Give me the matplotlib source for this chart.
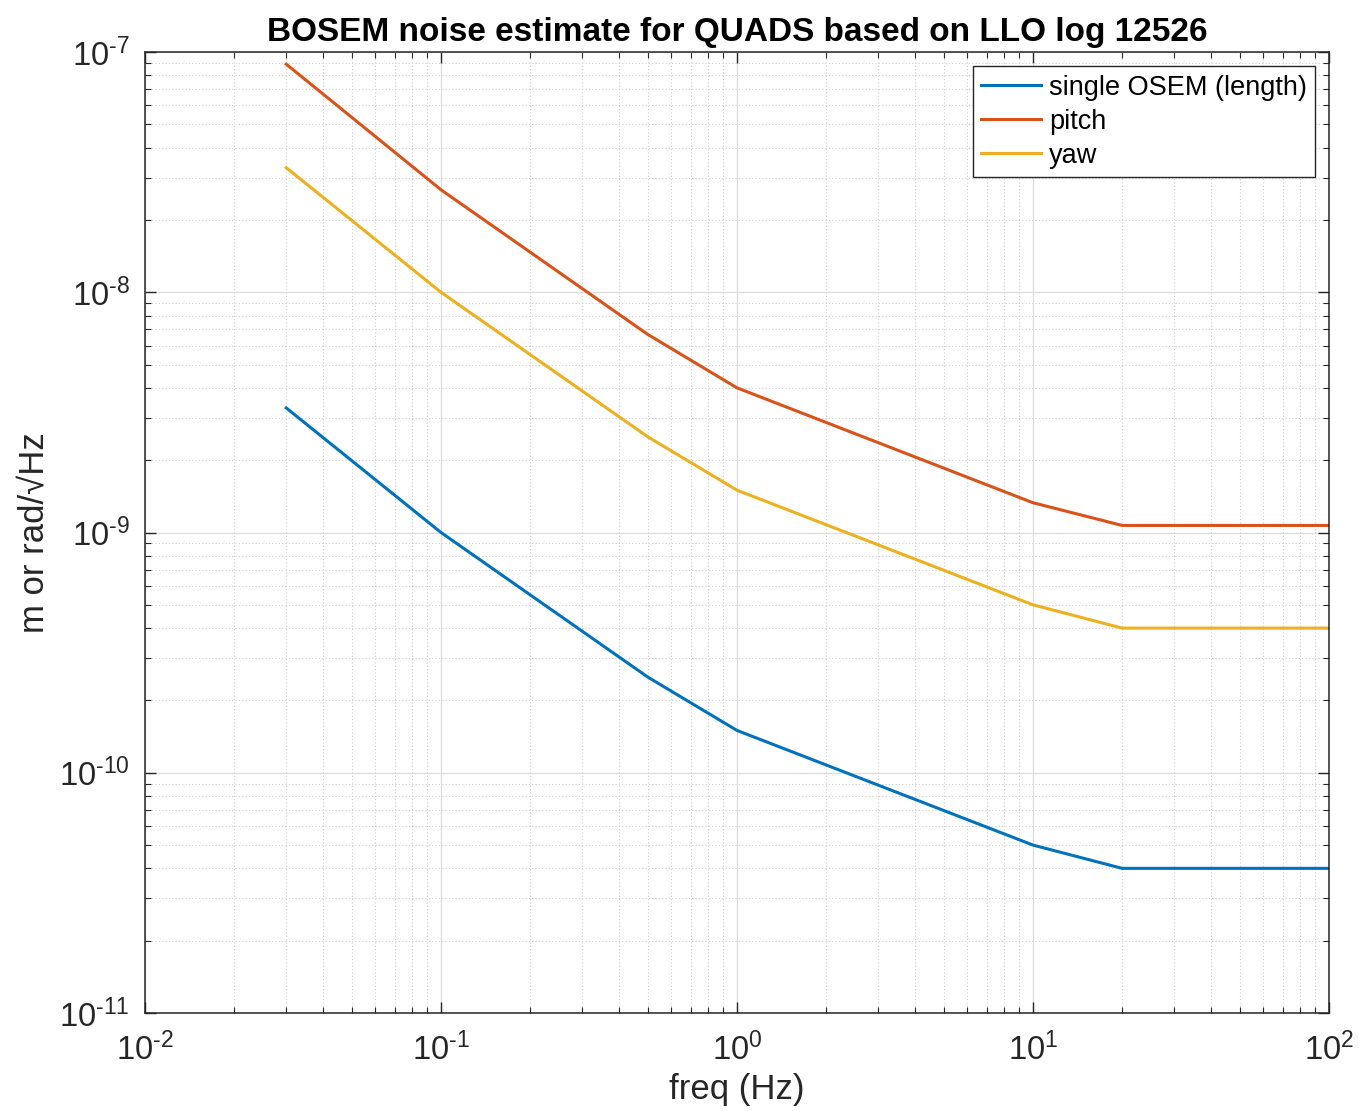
import numpy as np
import matplotlib
matplotlib.use("Agg")
import matplotlib.pyplot as plt
from matplotlib.ticker import FuncFormatter, NullFormatter

# values
freq = [0.03, 0.1, 0.5, 1, 10, 20, 100]
osem_length = [3.3e-9, 1.0e-9, 2.5e-10, 1.5e-10, 5.0e-11, 4.0e-11, 4.0e-11]
pitch = [8.9e-8, 2.67e-8, 6.67e-9, 4.0e-9, 1.33e-9, 1.07e-9, 1.07e-9]
yaw = [3.3e-8, 1.0e-8, 2.5e-9, 1.5e-9, 5.0e-10, 4.0e-10, 4.0e-10]

labels = ["single OSEM (length)", "pitch", "yaw"]
colors = ["#0072BD", "#D95319", "#EDB120"]

plt.rcParams['font.family'] = ['Liberation Sans', 'DejaVu Sans']
plt.rcParams['mathtext.fontset'] = 'custom'
plt.rcParams['mathtext.rm'] = 'Liberation Sans'
plt.rcParams['mathtext.it'] = 'Liberation Sans:italic'
plt.rcParams['mathtext.bf'] = 'Liberation Sans:bold'


def pow10(v, pos):
    e = int(round(np.log10(v)))
    if e < 0:
        return r'$\mathregular{10^{\text{-}%d}}$' % (-e)
    return r'$\mathregular{10^{%d}}$' % e


fig = plt.figure(figsize=(13.59, 11.11), dpi=100)
ax = fig.add_axes([145 / 1359, 1 - 1013 / 1111, (1329 - 145) / 1359, (1013 - 52) / 1111])

for y, lab, c in zip([osem_length, pitch, yaw], labels, colors):
    ax.loglog(freq, y, color=c, lw=2.2, label=lab)

ax.set_xlim(1e-2, 1e2)
ax.set_ylim(1e-11, 1e-7)
for a in (ax.xaxis, ax.yaxis):
    a.set_major_formatter(FuncFormatter(pow10))
    a.set_minor_formatter(NullFormatter())

ax.grid(True, which='major', color='#dcdcdc', lw=0.9, ls='-')
ax.grid(True, which='minor', color='#d0d0d0', lw=0.8, ls=(0, (1, 2)))
ax.set_axisbelow(True)

ax.tick_params(which='both', direction='in', top=True, right=True, colors='#262626',
               labelsize=23.5)
ax.tick_params(axis='x', which='major', pad=14)
ax.tick_params(axis='y', which='major', pad=11)
ax.tick_params(which='major', length=8, width=1)
ax.tick_params(which='minor', length=4, width=0.8)
for s in ax.spines.values():
    s.set_color('#262626')
    s.set_linewidth(1.1)

ax.set_title("BOSEM noise estimate for QUADS based on LLO log 12526",
             fontsize=24, fontweight='bold', pad=8)
ax.set_xlabel("freq (Hz)", fontsize=25, color='#262626', labelpad=4)
ax.set_ylabel("m or rad/\u221aHz", fontsize=25, color='#262626')
ax.yaxis.set_label_coords(-0.08, 0.5)

leg = ax.legend(loc='upper right', bbox_to_anchor=(0.988, 0.985), fontsize=19.5,
                fancybox=False, framealpha=1, edgecolor='#262626',
                handlelength=2.2, handletextpad=0.3, labelspacing=0.3,
                borderpad=0.3, borderaxespad=0)
leg.get_frame().set_linewidth(1.0)

fig.savefig("out.png", dpi=100)
